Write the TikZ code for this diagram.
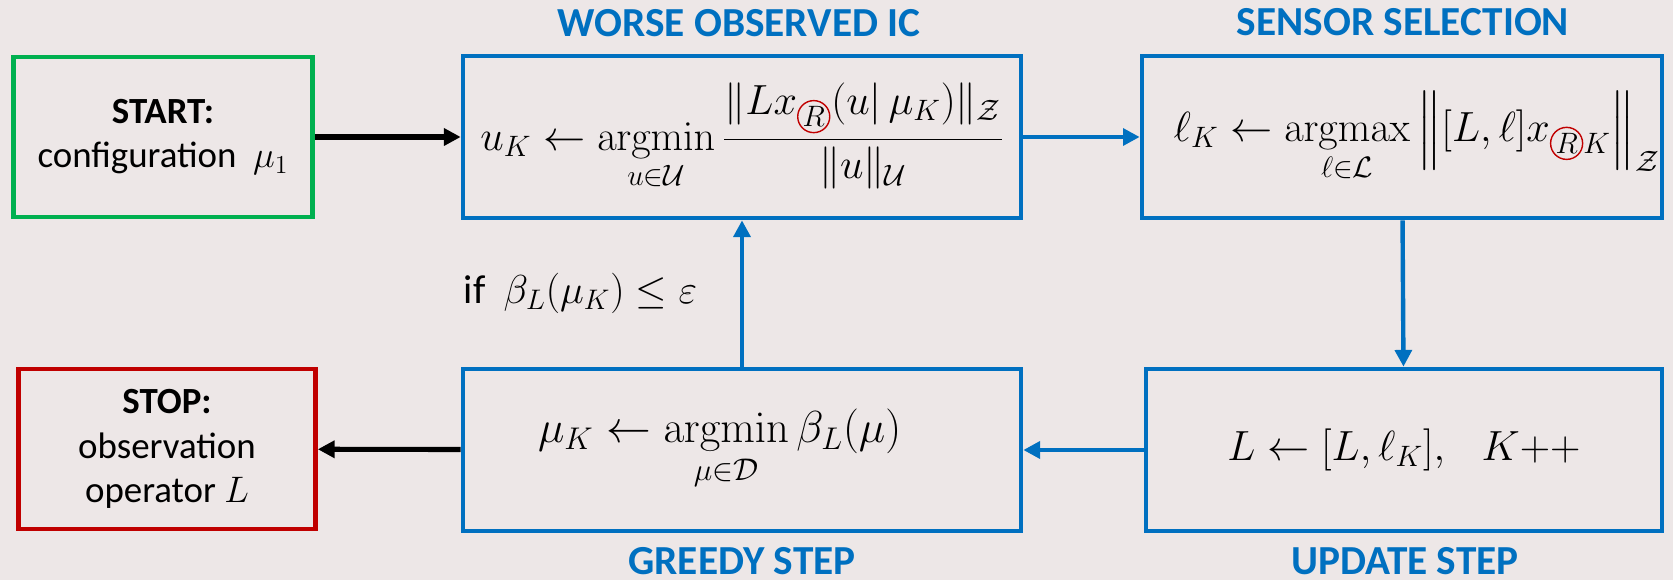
\RequirePackage{fix-cm}
\documentclass[tikz,border=0pt]{standalone}
\usepackage{amsmath}
\usepackage[no-math]{fontspec}
\setmainfont{Carlito}
\usetikzlibrary{positioning}
\usetikzlibrary{arrows.meta}

\definecolor{bgcol}{HTML}{EDE7E7}
\definecolor{stepblue}{HTML}{0070C0}
\definecolor{startgreen}{HTML}{00B050}
\definecolor{stopred}{HTML}{C00000}

% circled subscript R
\newcommand{\circR}{\tikz[baseline=(rr.base), x=1cm, y=1cm]\node[draw=stopred, circle, minimum size=0pt, minimum width=0pt, minimum height=0pt, inner sep=0.4pt, outer sep=0pt, line width=0.8pt] (rr) {$\scriptstyle R$};}

\begin{document}
\begin{tikzpicture}[x=0.02cm, y=-0.02cm,
    stepbox/.style={draw=stepblue, line width=2.7pt, minimum height=3.24cm, inner sep=0pt, font=\fontsize{24}{28}\selectfont},
    endbox/.style={line width=2.7pt, minimum height=3.2cm, align=center, font=\fontsize{21}{25.5}\selectfont},
    steptitle/.style={text=stepblue, inner sep=0pt, font=\bfseries\fontsize{23.5}{27}\selectfont},
    flow/.style={stepblue, line width=2.5pt, -{Triangle[length=9.5pt, width=9.5pt]}},
    exit/.style={black, line width=2.9pt, -{Triangle[length=9.5pt, width=9.5pt]}}]

    % Background / size
    \fill [bgcol] (0,0) rectangle (1673,580);

    % Start and stop
    \node [endbox, draw=startgreen, minimum width=5.98cm] (start) at (163,137) {\textbf{START:}\\configuration~ $\mu_1$};
    \node [endbox, draw=stopred, minimum width=5.94cm] (stop) at (167,449) {\textbf{STOP:}\\observation\\operator $L$};

    % Steps
    \node [stepbox, minimum width=11.16cm] (worse) at (742,137)
        {$\displaystyle u_K \leftarrow \operatorname*{argmin}_{u\in\mathcal{U}} \frac{\|Lx_{\circR}(u|\,\mu_K)\|_{\mathcal{Z}}}{\|u\|_{\mathcal{U}}}$};
    \node [stepbox, minimum width=10.4cm] (sensor) at (1402,137)
        {\hspace*{0.35em}$\displaystyle \ell_K \leftarrow \operatorname*{argmax}_{\ell\in\mathcal{L}} \Big\|[L,\ell]x_{\circR K}\Big\|_{\mathcal{Z}}$\hspace*{-0.35em}};
    \node [stepbox, minimum width=10.32cm] (update) at (1404,450)
        {$L \leftarrow [L,\ell_K], \hspace{0.7em} K{+}{+}$};
    \node [stepbox, minimum width=11.16cm, font=\fontsize{25.5}{29}\selectfont] (greedy) at (742,450)
        {\hspace*{-0.5em}$\displaystyle \mu_K \leftarrow \operatorname*{argmin}_{\mu\in\mathcal{D}} \beta_L(\mu)$\hspace*{0.5em}};

    % Titles
    \node [steptitle] (worsetitle) at (739,23) {WORSE OBSERVED IC};
    \node [steptitle] (sensortitle) at (1403,22) {SENSOR SELECTION};
    \node [steptitle] (greedytitle) at (742,561) {GREEDY STEP};
    \node [steptitle] (updatetitle) at (1405,561) {UPDATE STEP};

    % Arrows
    \draw [exit] (start) -- (worse);
    \draw [flow] (worse) -- (sensor);
    \draw [flow] (sensor) -- (update);
    \draw [flow] (update) -- (greedy);
    \draw [flow] (greedy) -- node [midway, left=21pt, black, font=\fontsize{23}{27}\selectfont] (cond) {if~ $\fontsize{25}{29}\selectfont\beta_L(\mu_K) \le \varepsilon$} (worse);
    \draw [exit] (greedy) -- (stop);

\end{tikzpicture}
\end{document}
